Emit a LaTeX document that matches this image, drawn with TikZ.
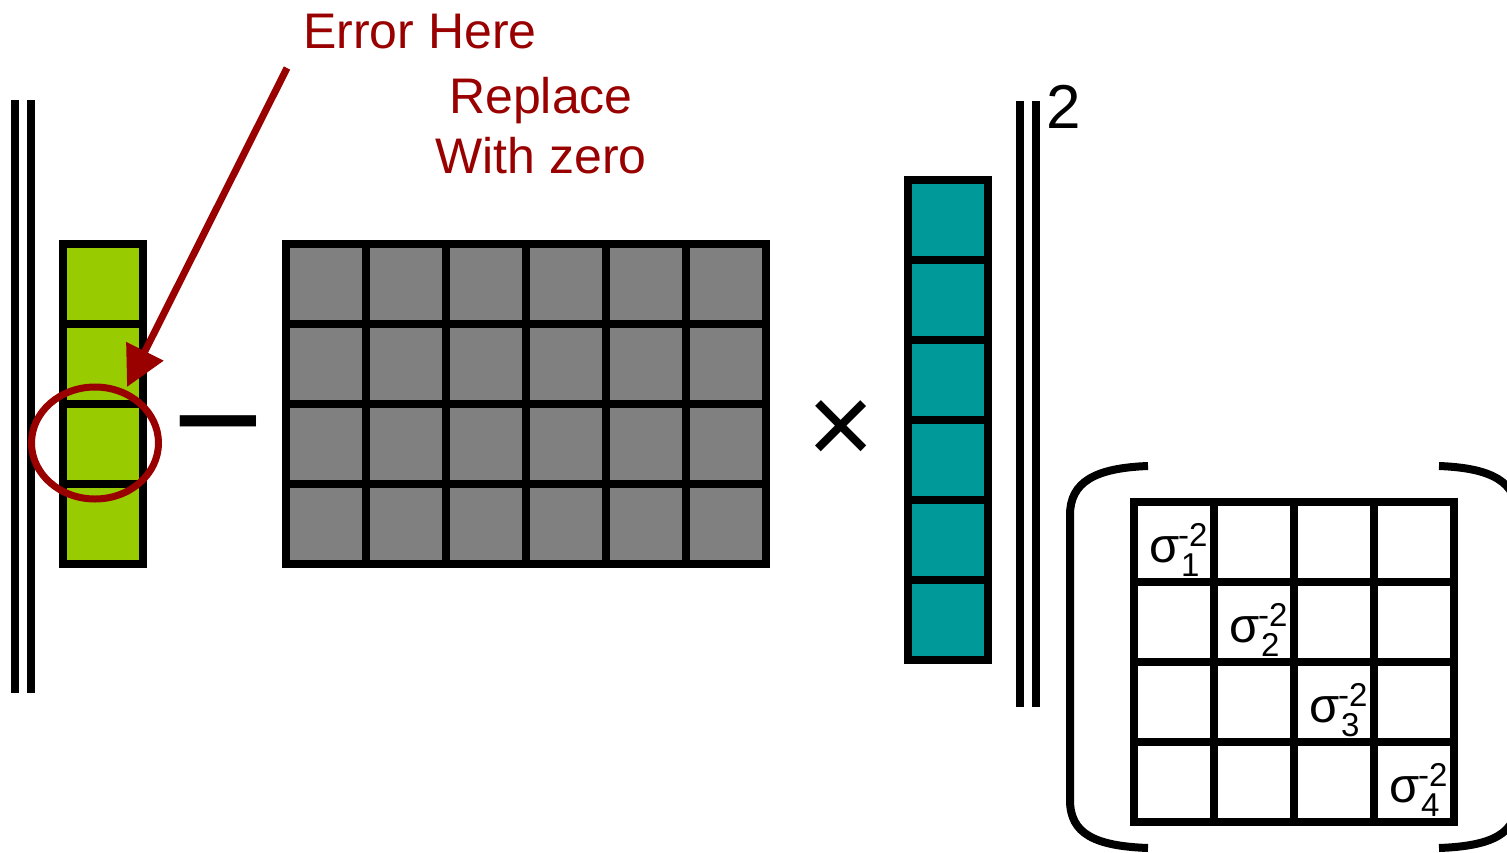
\documentclass[tikz,border=0pt]{standalone}
\usepackage{fontspec}
\setmainfont{Liberation Sans}
\usetikzlibrary{arrows.meta,shapes.geometric}
\definecolor{errred}{HTML}{990000}
\definecolor{lgreen}{HTML}{99CC00}
\definecolor{mgray}{HTML}{808080}
\definecolor{tealc}{HTML}{009999}
\begin{document}
\begin{tikzpicture}[x=1pt,y=-1pt,
  grid/.style={draw=black,line width=8pt},
  bar/.style={draw=black,line width=8pt},
  lbl/.style={text=errred,font=\fontsize{50}{60}\selectfont,inner sep=0pt},
  sigf/.style={font=\fontsize{49}{49}\selectfont,inner sep=0pt},
  supf/.style={font=\fontsize{33}{33}\selectfont,inner sep=0pt},
  opf/.style={inner sep=0pt}]
\useasboundingbox (0,0) rectangle (1507,852);
\clip (0,0) rectangle (1507,852);
% norm bars left
\draw[bar] (15,100) -- (15,693);
\draw[bar] (31,100) -- (31,693);
% green vector
\fill[lgreen] (63,244) rectangle (143,564);
\foreach \y in {324,404,484} \draw[grid] (63,\y) -- (143,\y);
\draw[grid] (63,244) rectangle (143,564);
% minus
\node[opf,font=\fontsize{157}{157}\selectfont,anchor=center] (minus) at (218,445) {−};
% gray matrix
\fill[mgray] (286,244) rectangle (766,564);
\foreach \x in {366,446,526,606,686} \draw[grid] (\x,244) -- (\x,564);
\foreach \y in {324,404,484} \draw[grid] (286,\y) -- (766,\y);
\draw[grid] (286,244) rectangle (766,564);
% times
\node[opf,font=\fontsize{115}{115}\selectfont,anchor=center] (times) at (841,433) {×};
% teal vector
\fill[tealc] (908,180) rectangle (988,660);
\foreach \y in {260,340,420,500,580} \draw[grid] (908,\y) -- (988,\y);
\draw[grid] (908,180) rectangle (988,660);
% norm bars right
\draw[bar] (1020,101) -- (1020,707);
\draw[bar] (1036,101) -- (1036,707);
\node[opf,font=\fontsize{62}{62}\selectfont,anchor=base] (sq) at (1064,128) {2};
% sigma matrix
\fill[white] (1134,502) rectangle (1454,822);
\foreach \x in {1214,1294,1374} \draw[grid] (\x,502) -- (\x,822);
\foreach \y in {582,662,742} \draw[grid] (1134,\y) -- (1454,\y);
\draw[grid] (1134,502) rectangle (1454,822);
\foreach \i in {0,1,2,3} {
  \pgfmathsetmacro\cx{1134+80*\i}
  \pgfmathsetmacro\cy{502+80*\i}
  \pgfmathtruncatemacro\k{\i+1}
  \node[sigf,anchor=base west] (sg\k) at (\cx+15,\cy+60) {σ};
  \node[supf,anchor=base west] (sp\k) at (\cx+44,\cy+44) {-2};
  \node[supf,anchor=base west] (sb\k) at (\cx+47,\cy+74) {\k};
}
% brackets
\draw[line width=8pt] (1148,466) .. controls (1095,468) and (1070,482) .. (1070,515)
  -- (1070,800) .. controls (1070,834) and (1095,846) .. (1148,848);
\draw[line width=8pt] (1439,466) .. controls (1492,468) and (1517,482) .. (1517,515)
  -- (1517,800) .. controls (1517,834) and (1492,846) .. (1439,848);
% error circle and arrow
\node[draw=errred,line width=7pt,ellipse,minimum width=127pt,minimum height=112pt,inner sep=0pt] (err) at (95,443) {};
\coordinate (arrstart) at (287,68);
\coordinate (arrtip) at (127,387);
\draw[errred,line width=7pt,-{Triangle[length=40pt,width=40pt]}] (arrstart) -- (arrtip);
% labels
\node[lbl,anchor=base] (errlbl) at (420,48) {Error Here};
\node[lbl,anchor=base] (rep1) at (541,113) {Replace};
\node[lbl,anchor=base] (rep2) at (541,173) {With zero};
\end{tikzpicture}
\end{document}
